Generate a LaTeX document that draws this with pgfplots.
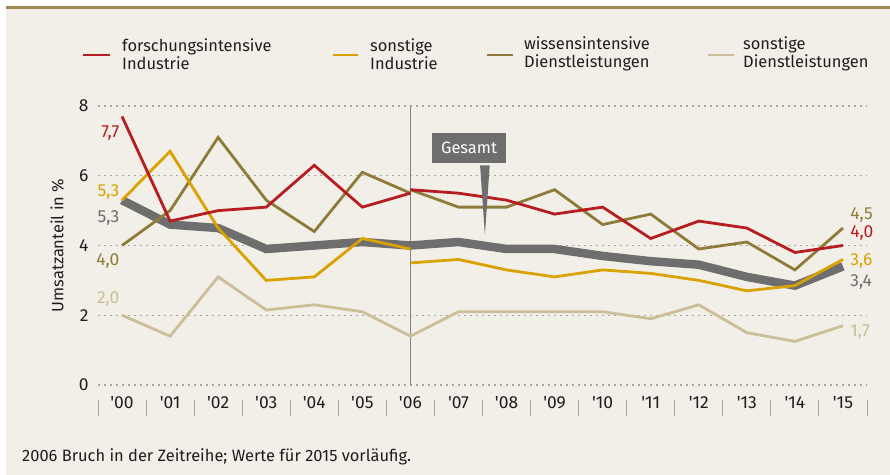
\documentclass[border=0pt]{standalone}
\usepackage{fontspec}
\setmainfont{Fira Sans}
\usepackage{pgfplots}
\pgfplotsset{compat=1.18}
\usepackage{pgfplotstable}

\definecolor{bgc}{RGB}{242,239,232}
\definecolor{cred}{RGB}{183,28,33}
\definecolor{cgold}{RGB}{218,162,0}
\definecolor{colive}{RGB}{142,123,58}
\definecolor{ctan}{RGB}{204,190,152}
\definecolor{cgray}{RGB}{110,110,110}
\definecolor{ctop}{RGB}{160,140,82}
\definecolor{cgrid}{RGB}{165,165,165}
\definecolor{ctext}{RGB}{30,30,30}

\pgfplotstableread{
x y
0 7.7
1 4.7
2 5.0
3 5.1
4 6.3
5 5.1
6 5.5
}\redold
\pgfplotstableread{
x y
6 5.6
7 5.5
8 5.3
9 4.9
10 5.1
11 4.2
12 4.7
13 4.5
14 3.8
15 4.0
}\rednew
\pgfplotstableread{
x y
0 5.3
1 6.7
2 4.5
3 3.0
4 3.1
5 4.2
6 3.9
}\goldold
\pgfplotstableread{
x y
6 3.5
7 3.6
8 3.3
9 3.1
10 3.3
11 3.2
12 3.0
13 2.7
14 2.85
15 3.6
}\goldnew
\pgfplotstableread{
x y
0 4.0
1 5.0
2 7.1
3 5.3
4 4.4
5 6.1
6 5.5
}\oliveold
\pgfplotstableread{
x y
6 5.6
7 5.1
8 5.1
9 5.6
10 4.6
11 4.9
12 3.9
13 4.1
14 3.3
15 4.5
}\olivenew
\pgfplotstableread{
x y
0 2.0
1 1.4
2 3.1
3 2.15
4 2.3
5 2.1
6 1.4
7 2.1
8 2.1
9 2.1
10 2.1
11 1.9
12 2.3
13 1.5
14 1.25
15 1.7
}\tanser
\pgfplotstableread{
x y
0 5.3
1 4.6
2 4.5
3 3.9
4 4.0
5 4.1
6 4.0
7 4.1
8 3.9
9 3.9
10 3.7
11 3.55
12 3.45
13 3.1
14 2.85
15 3.4
}\gesamt

\newcommand{\lf}{\fontsize{16.5}{18.5}\selectfont}
\newcommand{\vf}{\fontsize{17.5}{19}\selectfont}

\begin{document}
\begin{tikzpicture}[text=ctext]
\useasboundingbox (0bp,0bp) rectangle (890bp,475bp);
\fill[white] (0bp,0bp) rectangle (890bp,475bp);
\fill[bgc] (6bp,0bp) rectangle (890bp,467bp);
\fill[ctop] (6bp,466bp) rectangle (890bp,468.5bp);

% legend
\draw[cred, line width=2.6bp] (83bp,420bp) -- (110bp,420bp);
\node[anchor=west, align=left, inner sep=0pt, font=\lf] at (122bp,421bp) {forschungsintensive\\Industrie};
\draw[cgold, line width=2.6bp] (333bp,420bp) -- (358bp,420bp);
\node[anchor=west, align=left, inner sep=0pt, font=\lf] at (370bp,421bp) {sonstige\\Industrie};
\draw[colive, line width=2.6bp] (487bp,420bp) -- (513bp,420bp);
\node[anchor=west, align=left, inner sep=0pt, font=\lf] at (524bp,421bp) {wissensintensive\\Dienstleistungen};
\draw[ctan, line width=2.6bp] (708bp,420bp) -- (734bp,420bp);
\node[anchor=west, align=left, inner sep=0pt, font=\lf] at (743bp,421bp) {sonstige\\Dienstleistungen};

% x separators
\foreach \k in {0,...,16} \draw[cgrid, line width=1bp] ({(98+48.0625*\k)*1bp},75bp) -- ++(0bp,-16bp);

\begin{axis}[
  at={(98bp,90bp)}, anchor=south west, scale only axis,
  width=769bp, height=279bp,
  xmin=-0.5, xmax=15.5, ymin=0, ymax=8,
  axis line style={draw=none},
  tick style={draw=none},
  clip=false,
  ytick={0,2,4,6,8},
  xtick={0,...,15},
  xticklabels={\textquotesingle00,\textquotesingle01,\textquotesingle02,\textquotesingle03,\textquotesingle04,\textquotesingle05,\textquotesingle06,\textquotesingle07,\textquotesingle08,\textquotesingle09,\textquotesingle10,\textquotesingle11,\textquotesingle12,\textquotesingle13,\textquotesingle14,\textquotesingle15},
  ymajorgrids,
  grid style={cgrid, line width=1.2bp, dash pattern=on 1.5bp off 4.5bp},
  /pgf/number format/assume math mode=true,
  ticklabel style={font=\vf, text=ctext},
  xticklabel style={yshift=-8bp},
  yticklabel style={xshift=-6bp},
  ylabel={Umsatzanteil in \%},
  ylabel style={font=\lf, text=ctext, yshift=8bp},
]
\draw[cgrid!80!black, line width=1bp] (axis cs:6,0) -- (axis cs:6,8);

\addplot[cgray, line width=8.5bp] table[x=x,y=y] {\gesamt};
\addplot[ctan, line width=2.8bp] table[x=x,y=y] {\tanser};
\addplot[colive, line width=2.8bp] table[x=x,y=y] {\oliveold};
\addplot[colive, line width=2.8bp] table[x=x,y=y] {\olivenew};
\addplot[cgold, line width=2.8bp] table[x=x,y=y] {\goldold};
\addplot[cgold, line width=2.8bp] table[x=x,y=y] {\goldnew};
\addplot[cred, line width=2.8bp] table[x=x,y=y] {\redold};
\addplot[cred, line width=2.8bp] table[x=x,y=y] {\rednew};

% Gesamt callout
\fill[cgray] (axis cs:7.45,6.3) -- (axis cs:7.55,4.3) -- (axis cs:7.65,6.3) -- cycle;
\node[fill=cgray, text=white, font=\lf, inner xsep=6bp, minimum height=30bp, minimum width=74bp] at (axis cs:7.22,6.79) {Gesamt};

% value labels left
\node[anchor=east, text=cred, inner sep=0pt, font=\vf] at (axis cs:-0.05,7.22) {7,7};
\node[anchor=east, text=cgold, inner sep=0pt, font=\vf] at (axis cs:-0.05,5.53) {5,3};
\node[anchor=east, text=cgray, inner sep=0pt, font=\vf] at (axis cs:-0.05,4.78) {5,3};
\node[anchor=east, text=colive, inner sep=0pt, font=\vf] at (axis cs:-0.05,3.55) {4,0};
\node[anchor=east, text=ctan, inner sep=0pt, font=\vf] at (axis cs:-0.05,2.46) {2,0};
% value labels right
\node[anchor=west, text=colive, inner sep=0pt, font=\vf] at (axis cs:15.15,4.87) {4,5};
\node[anchor=west, text=cred, inner sep=0pt, font=\vf] at (axis cs:15.15,4.36) {4,0};
\node[anchor=west, text=cgold, inner sep=0pt, font=\vf] at (axis cs:15.15,3.55) {3,6};
\node[anchor=west, text=cgray, inner sep=0pt, font=\vf] at (axis cs:15.15,2.95) {3,4};
\node[anchor=west, text=ctan, inner sep=0pt, font=\vf] at (axis cs:15.15,1.52) {1,7};
\end{axis}

\node[anchor=west, inner sep=0pt, font=\lf] at (22bp,18bp) {2006 Bruch in der Zeitreihe; Werte für 2015 vorläufig.};
\end{tikzpicture}
\end{document}
